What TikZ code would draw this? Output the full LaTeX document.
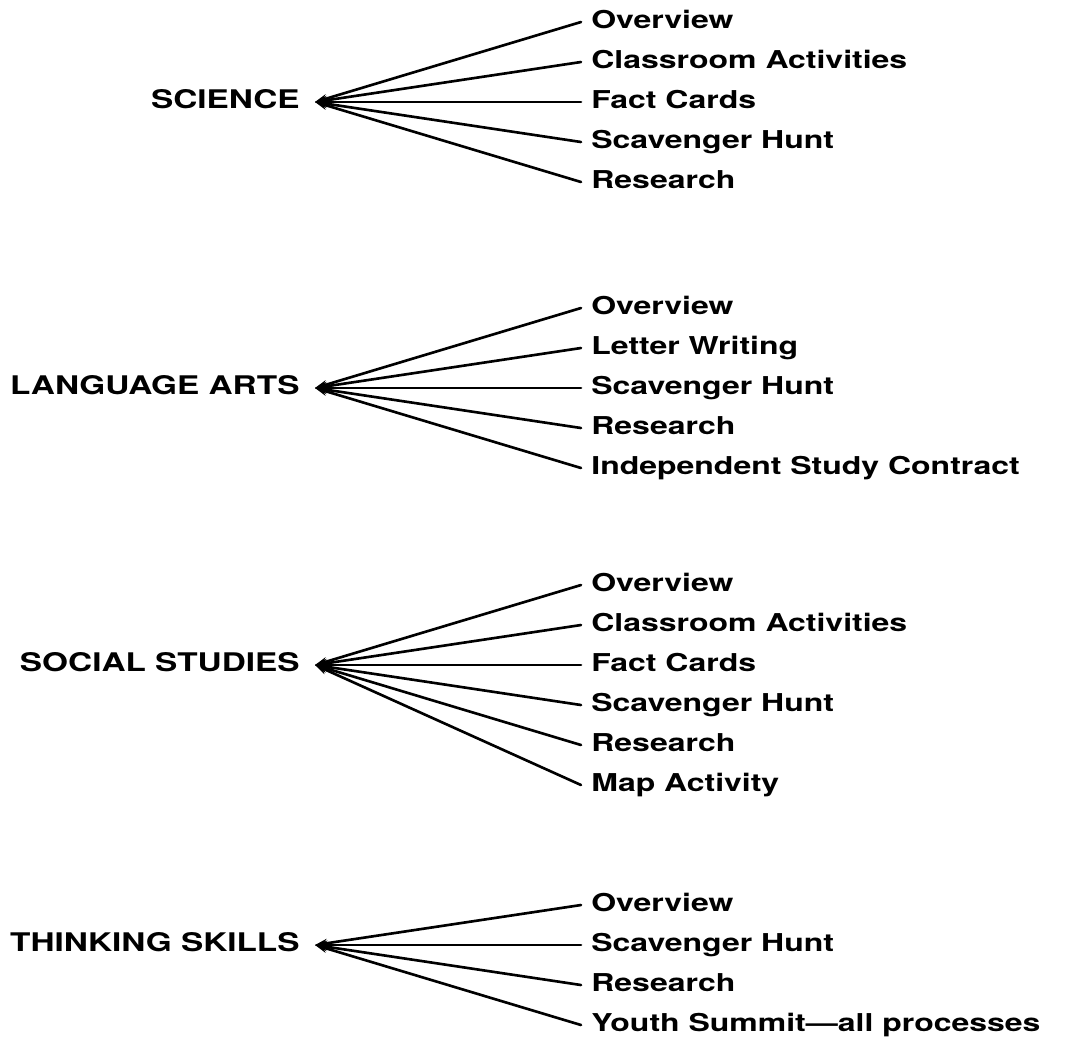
\documentclass[tikz,border=0pt]{standalone}
\usepackage{fontspec}
\setmainfont{TeX Gyre Heros}[FakeStretch=1.3]
\usetikzlibrary{arrows.meta}
\begin{document}
\begin{tikzpicture}[font=\bfseries\fontsize{14}{16}\selectfont,
  topic/.style={anchor=east, inner sep=0pt, text height=1.4ex, text depth=0pt, font=\bfseries\fontsize{14.6}{16}\selectfont},
  entry/.style={anchor=west, inner xsep=0.2cm, inner ysep=0pt, text height=1.4ex, text depth=0pt},
  spoke/.style={line width=1.5pt, line cap=round, {Stealth[length=7pt,width=5pt]}-}]
  \useasboundingbox (0,0) rectangle (21.34,-21);
  % science
  \coordinate (sci) at (6.3,-2.04);
  \node[topic] (sci-lbl) at (6.0,-2.04) {SCIENCE};
  \foreach \t [count=\i from 0] in {Overview, Classroom Activities, Fact Cards, Scavenger Hunt, Research} {
    \node[entry] (sci-\i) at (11.62,-2.04+1.6-0.8*\i) {\t};
    \draw[spoke] (sci) -- (sci-\i.west);
  }
  % language arts
  \coordinate (lang) at (6.3,-7.76);
  \node[topic] (lang-lbl) at (6.0,-7.76) {LANGUAGE ARTS};
  \foreach \t [count=\i from 0] in {Overview, Letter Writing, Scavenger Hunt, Research, Independent Study Contract} {
    \node[entry] (lang-\i) at (11.62,-7.76+1.6-0.8*\i) {\t};
    \draw[spoke] (lang) -- (lang-\i.west);
  }
  % social studies
  \coordinate (soc) at (6.3,-13.3);
  \node[topic] (soc-lbl) at (6.0,-13.3) {SOCIAL STUDIES};
  \foreach \t [count=\i from 0] in {Overview, Classroom Activities, Fact Cards, Scavenger Hunt, Research, Map Activity} {
    \node[entry] (soc-\i) at (11.62,-13.3+1.6-0.8*\i) {\t};
    \draw[spoke] (soc) -- (soc-\i.west);
  }
  % thinking skills
  \coordinate (think) at (6.3,-18.9);
  \node[topic] (think-lbl) at (6.0,-18.9) {THINKING SKILLS};
  \foreach \t [count=\i from 0] in {Overview, Scavenger Hunt, Research, Youth Summit---all processes} {
    \node[entry] (think-\i) at (11.62,-18.9+0.8-0.8*\i) {\t};
    \draw[spoke] (think) -- (think-\i.west);
  }
\end{tikzpicture}
\end{document}
